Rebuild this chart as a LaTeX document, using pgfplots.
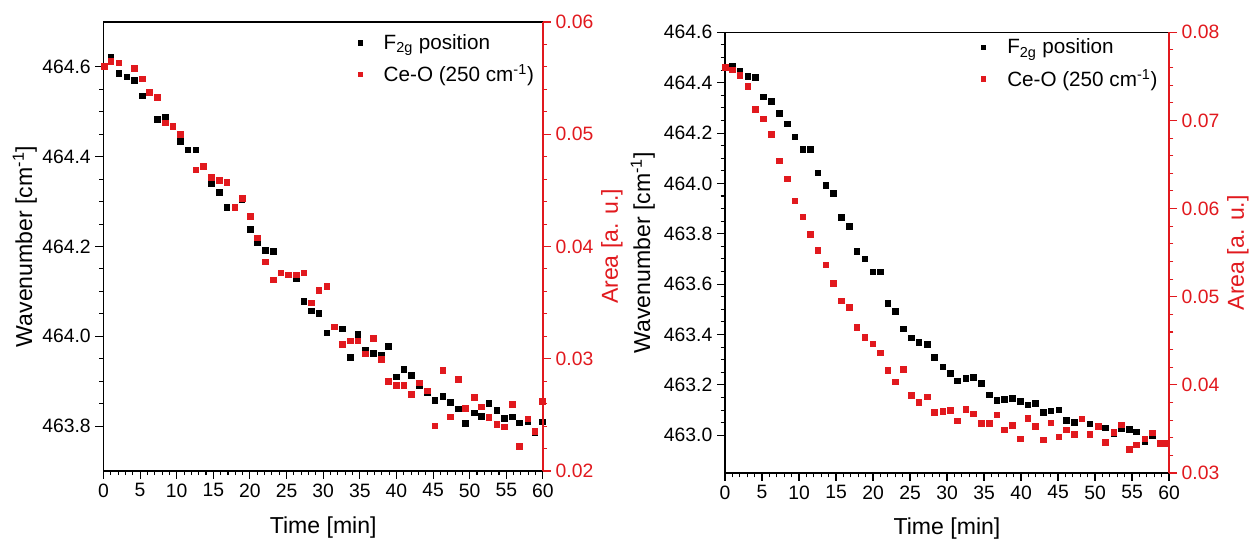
\documentclass[border=0pt]{standalone}
\usepackage{fontspec}
\setmainfont{Liberation Sans}
\usepackage{pgfplots}
\pgfplotsset{compat=1.18}
\definecolor{ored}{RGB}{225,25,30}

\pgfplotstableread{
t w
0.98 464.623
2.07 464.586
3.17 464.578
4.2 464.570
5.3 464.536
7.3 464.483
8.4 464.488
10.5 464.434
11.5 464.416
12.6 464.416
14.7 464.340
15.8 464.321
16.8 464.287
17.9 464.287
18.9 464.304
20.0 464.238
21.0 464.210
22.1 464.192
23.2 464.190
26.3 464.129
27.35 464.078
28.4 464.057
29.4 464.051
30.5 464.008
32.6 464.017
33.7 463.953
34.7 464.004
35.7 463.970
36.8 463.962
37.9 463.958
38.9 463.978
40.0 463.910
41.0 463.927
42.05 463.914
43.1 463.891
44.2 463.876
45.2 463.858
46.3 463.867
47.3 463.853
48.4 463.839
49.4 463.807
50.6 463.830
51.6 463.822
52.6 463.851
53.7 463.836
54.7 463.818
55.8 463.821
56.8 463.808
57.9 463.811
58.9 463.786
59.9 463.810
}\leftF

\pgfplotstableread{
t a
0.1 0.05604
0.98 0.05652
2.07 0.05637
4.2 0.05587
5.3 0.05494
6.26 0.05375
7.3 0.05330
8.4 0.05104
9.45 0.05069
10.5 0.05003
12.6 0.04685
13.6 0.04717
14.7 0.04616
15.8 0.04589
16.8 0.04574
17.9 0.04351
18.9 0.04431
20.0 0.04268
21.0 0.04080
22.1 0.03863
23.2 0.03705
24.2 0.03768
25.2 0.03750
26.3 0.03750
27.35 0.03768
28.4 0.03500
29.4 0.03610
30.5 0.03646
31.5 0.03286
32.6 0.03128
33.7 0.03161
34.7 0.03161
35.7 0.03045
36.8 0.03185
37.9 0.02994
38.9 0.02801
40.0 0.02762
41.0 0.02762
42.05 0.02685
43.1 0.02786
44.2 0.02717
45.2 0.02404
46.3 0.02896
47.3 0.02485
48.4 0.02818
49.4 0.02560
50.6 0.02655
51.6 0.02574
52.6 0.02479
53.7 0.02417
54.7 0.02396
55.8 0.02596
56.8 0.02223
57.9 0.02467
58.9 0.02357
59.9 0.02622
}\leftA

\pgfplotstableread{
t w
0.95 464.467
1.98 464.446
3.06 464.425
4.1 464.421
5.18 464.344
6.26 464.327
7.3 464.278
8.38 464.237
9.4 464.185
10.5 464.136
11.5 464.136
12.5 464.042
13.6 463.992
14.6 463.962
15.7 463.866
16.8 463.830
17.8 463.730
18.9 463.701
19.96 463.650
21.0 463.650
22.0 463.525
23.0 463.493
24.1 463.423
25.2 463.387
26.2 463.370
27.3 463.361
28.3 463.310
29.4 463.272
30.4 463.247
31.4 463.217
32.5 463.226
33.5 463.230
34.6 463.207
35.7 463.161
36.7 463.139
37.7 463.143
38.8 463.147
39.9 463.135
40.9 463.122
41.9 463.126
43.0 463.092
44.0 463.097
45.1 463.101
46.1 463.060
47.2 463.052
49.3 463.045
51.4 463.030
52.5 463.008
53.5 463.026
54.6 463.025
55.6 463.014
56.7 462.974
57.7 463.000
59.7 462.968
}\rightF

\pgfplotstableread{
t a
0.0 0.07605
0.95 0.07574
1.98 0.07511
3.06 0.07386
4.1 0.07131
5.18 0.07021
6.26 0.06843
7.3 0.06543
8.38 0.06339
9.4 0.06088
10.5 0.05906
11.5 0.05708
12.5 0.05531
13.6 0.05363
14.6 0.05151
15.7 0.04954
16.8 0.04882
17.8 0.04655
18.9 0.04541
19.96 0.04465
21.0 0.04366
22.0 0.04169
23.0 0.04036
24.1 0.04177
25.2 0.03881
26.2 0.03801
27.3 0.03865
28.3 0.03691
29.4 0.03699
30.4 0.03710
31.4 0.03592
32.5 0.03725
33.5 0.03671
34.6 0.03562
35.7 0.03566
36.7 0.03660
37.7 0.03489
38.8 0.03539
39.9 0.03391
40.9 0.03622
41.9 0.03531
43.0 0.03380
44.0 0.03569
45.1 0.03414
46.1 0.03489
47.2 0.03440
48.2 0.03615
49.3 0.03437
50.4 0.03531
51.4 0.03349
52.5 0.03460
53.5 0.03546
54.6 0.03273
55.6 0.03323
56.7 0.03387
57.7 0.03455
58.8 0.03335
59.7 0.03341
}\rightA

\pgfplotsset{
  base/.style={
    scale only axis, clip=false,
    xmin=0, xmax=60, xtick={0,5,...,60}, minor x tick num=4,
    tick align=outside, major tick length=6pt, minor tick length=3.2pt,
    every tick/.style={line width=0.8pt},
    axis line style={line width=0.9pt},
    ticklabel style={font=\fontsize{14.5}{17}\selectfont},
    label style={font=\fontsize{17.3}{21}\selectfont},
    /pgf/number format/assume math mode=true,
    scaled y ticks=false,
    xlabel={Time [min]},
    xlabel style={at={(axis description cs:0.5,-0.125)}, anchor=center},
  },
  blk/.style={only marks, mark=square*, mark size=2.1pt, color=black, mark options={line width=0.3pt}},
  rd/.style={only marks, mark=square*, mark size=2.1pt, color=ored, mark options={line width=0.3pt}},
  leftax/.style={base, axis x line*=bottom, axis y line*=left,
    yticklabel style={/pgf/number format/fixed, /pgf/number format/fixed zerofill, /pgf/number format/precision=1},
    ylabel={Wavenumber [cm\textsuperscript{-1}]},
    after end axis/.code={\draw[line width=0.9pt] (rel axis cs:0,1) -- (rel axis cs:1,1);}},
  rightax/.style={base, axis x line=none, axis y line*=right,
    y axis line style={ored}, every y tick/.style={ored, line width=0.8pt},
    yticklabel style={text=ored, /pgf/number format/fixed, /pgf/number format/fixed zerofill, /pgf/number format/precision=2},
    ylabel={Area [a. u.]},
    legend style={draw=none, fill=none, font=\fontsize{15.5}{18}\selectfont, row sep=6pt, anchor=north west},
    legend cell align=left,
    legend image code/.code={\draw[#1, mark size=1.6pt] plot coordinates {(0.35cm,0cm)}; \path (0cm,0cm) (0.9cm,0cm);}},
}

\begin{document}
\begin{tikzpicture}
\useasboundingbox (0,0) rectangle (937.5pt,405.75pt);

% left panel
\begin{axis}[leftax, at={(77.6pt,52.5pt)}, anchor=south west,
  width=329.6pt, height=336.75pt,
  ymin=463.7, ymax=464.7, ytick={463.8,464.0,464.2,464.4,464.6}, minor y tick num=3,
  ylabel style={at={(axis description cs:-0.179,0.5)}, anchor=center}]
\addplot[blk] table[x=t,y=w] {\leftF};
\end{axis}
\begin{axis}[rightax, at={(77.6pt,52.5pt)}, anchor=south west,
  width=329.6pt, height=336.75pt,
  ymin=0.02, ymax=0.06, ytick={0.02,0.03,0.04,0.05,0.06}, minor y tick num=4,
  ylabel style={text=ored, at={(axis description cs:1.157,0.5)}, anchor=center},
  legend style={at={(axis description cs:0.543,0.985)}}]
\addlegendimage{blk}
\addlegendentry{F\textsubscript{2g} position}
\addplot[rd] table[x=t,y=a] {\leftA};
\addlegendentry{Ce-O (250 cm\textsuperscript{-1})}
\end{axis}

% right panel
\begin{axis}[leftax, at={(543.75pt,51pt)}, anchor=south west,
  width=333pt, height=330.5pt,
  ymin=462.85, ymax=464.6, ytick={463.0,463.2,463.4,463.6,463.8,464.0,464.2,464.4,464.6}, minor y tick num=3,
  ylabel style={at={(axis description cs:-0.185,0.5)}, anchor=center}]
\addplot[blk] table[x=t,y=w] {\rightF};
\end{axis}
\begin{axis}[rightax, at={(543.75pt,51pt)}, anchor=south west,
  width=333pt, height=330.5pt,
  ymin=0.03, ymax=0.08, ytick={0.03,0.04,0.05,0.06,0.07,0.08}, minor y tick num=4,
  ylabel style={text=ored, at={(axis description cs:1.155,0.5)}, anchor=center},
  legend style={at={(axis description cs:0.542,0.998)}}]
\addlegendimage{blk}
\addlegendentry{F\textsubscript{2g} position}
\addplot[rd] table[x=t,y=a] {\rightA};
\addlegendentry{Ce-O (250 cm\textsuperscript{-1})}
\end{axis}
\end{tikzpicture}
\end{document}
